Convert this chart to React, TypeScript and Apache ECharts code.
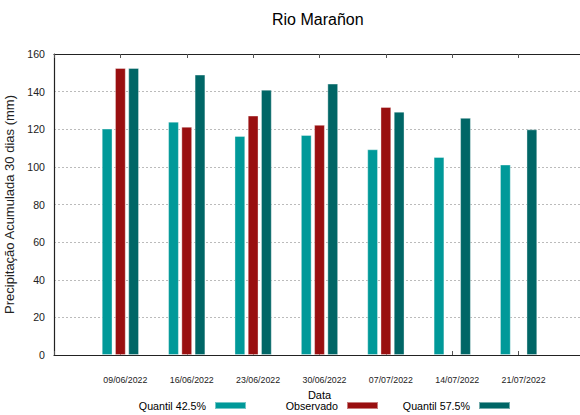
import React, { useEffect, useRef } from "react";
import * as echarts from "echarts";

const categories = ["", "09/06/2022", "16/06/2022", "23/06/2022", "30/06/2022", "07/07/2022", "14/07/2022", "21/07/2022", ""];
const quantil425 = [null, 120.3, 124.0, 116.4, 116.9, 109.3, 105.2, 101.2, null];
const observado = [null, 152.5, 121.3, 127.2, 122.3, 131.8, null, null, null];
const quantil575 = [null, 152.5, 149.0, 141.0, 144.2, 129.3, 126.0, 119.9, null];
const seriesNames = ["Quantil 42.5%", "Observado", "Quantil 57.5%"];
const colors = ["#009999", "#990f10", "#006666"];

const FONT = "'Liberation Sans', Arial, sans-serif";

export default function App() {
  const ref = useRef<HTMLDivElement>(null);
  useEffect(() => {
    if (!ref.current) return;
    const chart = echarts.init(ref.current, null, { renderer: "svg" });
    const values = [quantil425, observado, quantil575];
    const legendRight = [333, 201, 69];
    chart.setOption({
      animation: false,
      textStyle: { fontFamily: FONT },
      title: {
        text: "Rio Marañon",
        left: 272,
        top: 11,
        padding: 0,
        textStyle: { fontFamily: FONT, fontSize: 16, fontWeight: "normal", color: "#000" },
      },
      legend: seriesNames.map((n, i) => ({
        data: [n],
        right: legendRight[i],
        top: 400,
        padding: 0,
        align: "right",
        itemWidth: 31,
        itemHeight: 7,
        itemGap: 9,
        icon: "rect",
        textStyle: { fontFamily: FONT, fontSize: 10.7, color: "#000", padding: [0, 4, 0, 0] },
      })),
      grid: { left: 54, top: 54, right: -5, bottom: 60, containLabel: false, outerBoundsMode: "none" },
      xAxis: [
        {
          type: "category",
          data: categories,
          boundaryGap: false,
          name: "Data",
          nameLocation: "middle",
          nameGap: 34,
          nameTextStyle: { fontFamily: FONT, fontSize: 11, color: "#000" },
          axisLine: { lineStyle: { color: "#222", width: 1.2 } },
          axisTick: { inside: true, length: 4, lineStyle: { color: "#555" }, interval: 0 },
          axisLabel: { interval: 0, margin: 20, padding: [0, 0, 0, 10], fontFamily: FONT, fontSize: 8.8, color: "#222" },
          splitLine: { show: false },
        },
        {
          type: "category",
          data: categories,
          boundaryGap: false,
          position: "top",
          axisLine: { lineStyle: { color: "#222", width: 1.2 } },
          axisTick: { inside: true, length: 4, lineStyle: { color: "#555" }, interval: 0 },
          axisLabel: { show: false },
        },
      ],
      yAxis: {
        type: "value",
        min: 0,
        max: 160,
        interval: 20,
        name: "Precipitação Acumulada 30 dias (mm)",
        nameLocation: "middle",
        nameGap: 31,
        nameTextStyle: { fontFamily: FONT, fontSize: 13, color: "#222" },
        axisLine: { show: true, lineStyle: { color: "#222", width: 1.2 } },
        axisTick: { show: false },
        axisLabel: { margin: 9, fontFamily: FONT, fontSize: 10.6, color: "#222" },
        splitLine: { show: true, lineStyle: { color: "#bbb", type: [2, 2], width: 1 } },
      },
      series: values.map((v, i) => ({
        name: seriesNames[i],
        type: "bar",
        data: v,
        barWidth: 10.6,
        barGap: "25%",
        itemStyle: { color: colors[i], borderColor: "rgba(255,255,255,0.45)", borderWidth: 0.8 },
      })),
    });
    return () => chart.dispose();
  }, []);
  return (
    <div
      ref={ref}
      style={{ position: "fixed", left: 0, top: 0, width: 580, height: 415, background: "#fff" }}
    />
  );
}
